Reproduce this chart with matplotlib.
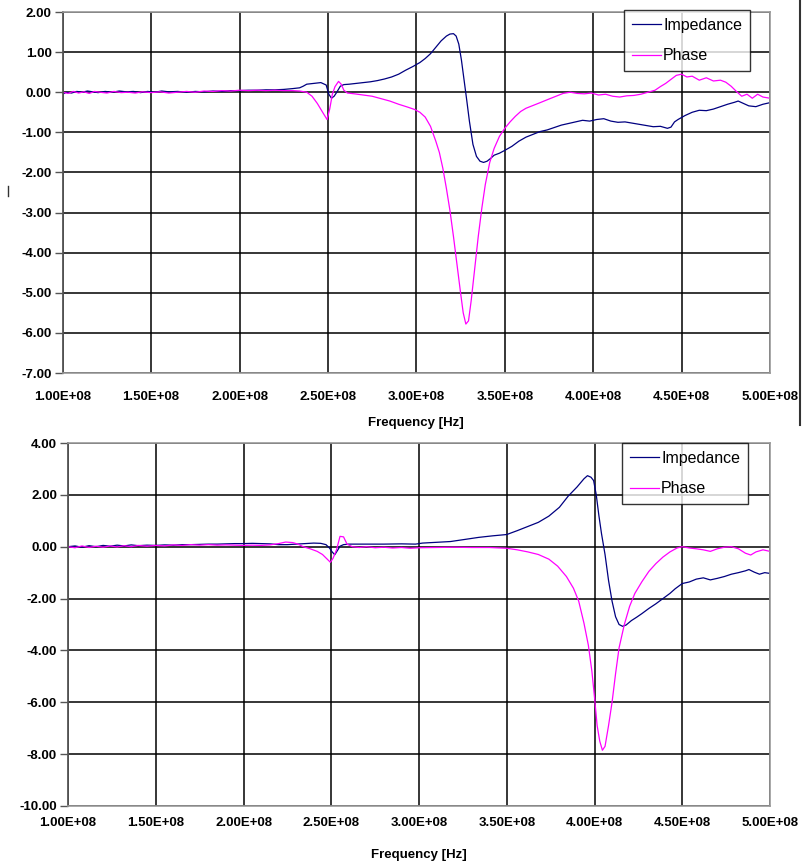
import matplotlib
matplotlib.use("Agg")
import matplotlib.pyplot as plt
from matplotlib.lines import Line2D
import numpy as np

plt.rcParams['font.family'] = ['Liberation Sans', 'DejaVu Sans']

# ---- top panel data (frequency in MHz) ----
top_imp_f = [100, 102, 105, 108, 111, 114, 117, 120, 124, 128, 132, 136, 140, 144, 148, 152, 156, 160,
             165, 170, 175, 180, 185, 190, 195, 200, 205, 210, 215, 220, 225, 230, 234, 236, 238, 242,
             246, 249, 250.5, 252, 253.5, 255, 257, 259, 262, 266, 270, 274, 278, 282, 286, 290, 294,
             298, 302, 305, 308, 311, 314, 317, 319, 321, 322.5, 324, 325.5, 327, 328.5, 330, 332, 334,
             336, 338, 340, 342, 344, 347, 350, 354, 358, 362, 366, 370, 374, 378, 382, 386, 390, 394,
             398, 402, 406, 410, 414, 418, 422, 426, 430, 434, 438, 442, 444, 446, 448, 452, 456, 460,
             464, 468, 472, 476, 480, 482, 485, 488, 492, 496, 500]
top_imp = [-0.05, 0.0, -0.02, 0.02, 0.0, 0.03, 0.01, -0.01, 0.02, 0.0, 0.03, 0.01, 0.02, -0.01, 0.02,
           0.0, 0.03, 0.01, 0.02, 0.0, 0.02, 0.01, 0.03, 0.02, 0.04, 0.04, 0.05, 0.05, 0.06, 0.06, 0.07,
           0.09, 0.11, 0.15, 0.2, 0.22, 0.24, 0.18, -0.05, -0.15, -0.1, 0.0, 0.15, 0.19, 0.2, 0.22, 0.24,
           0.26, 0.29, 0.33, 0.38, 0.45, 0.55, 0.64, 0.74, 0.84, 0.96, 1.12, 1.28, 1.4, 1.45, 1.46, 1.4,
           1.2, 0.8, 0.3, -0.2, -0.72, -1.3, -1.6, -1.72, -1.75, -1.72, -1.65, -1.57, -1.52, -1.45,
           -1.35, -1.22, -1.12, -1.05, -0.98, -0.94, -0.88, -0.82, -0.78, -0.74, -0.7, -0.72, -0.68,
           -0.66, -0.72, -0.75, -0.74, -0.77, -0.8, -0.83, -0.86, -0.85, -0.9, -0.87, -0.74, -0.68,
           -0.58, -0.5, -0.45, -0.46, -0.42, -0.36, -0.3, -0.25, -0.22, -0.28, -0.34, -0.36, -0.3, -0.26]

top_ph_f = [100, 103, 106, 109, 112, 115, 118, 121, 125, 129, 133, 137, 141, 145, 150, 155, 160, 165,
            170, 175, 180, 185, 190, 195, 200, 205, 210, 215, 220, 225, 230, 234, 238, 241, 244, 247,
            249.5, 251, 252.5, 254, 256, 257.5, 259, 261, 265, 270, 275, 280, 285, 290, 295, 299, 302,
            305, 308, 311, 313, 315, 317, 319, 321, 323, 325, 326.5, 328, 329.5, 331, 333, 335, 337,
            339, 341.5, 344, 347, 350, 353, 356, 359, 362, 366, 370, 375, 379, 383, 387, 391, 395, 399,
            403, 407, 411, 415, 419, 423, 427, 431, 435, 438, 441, 444, 447, 450, 453, 456, 460, 464,
            468, 472, 475, 478, 481, 484, 487, 490, 493, 496, 500]
top_ph = [0.0, -0.03, 0.02, -0.02, 0.01, -0.03, 0.02, 0.0, -0.02, 0.02, -0.01, 0.0, -0.02, 0.01, -0.01,
          0.01, -0.02, 0.0, 0.02, 0.0, 0.03, 0.02, 0.04, 0.03, 0.05, 0.04, 0.05, 0.04, 0.05, 0.04, 0.04,
          0.03, 0.0, -0.1, -0.28, -0.5, -0.68, -0.42, -0.05, 0.14, 0.27, 0.2, 0.05, -0.02, -0.04, -0.07,
          -0.1, -0.16, -0.22, -0.3, -0.37, -0.43, -0.5, -0.62, -0.85, -1.22, -1.5, -1.9, -2.4, -2.95,
          -3.6, -4.3, -5.0, -5.5, -5.78, -5.7, -5.2, -4.4, -3.6, -2.9, -2.3, -1.75, -1.4, -1.1, -0.9,
          -0.74, -0.6, -0.48, -0.4, -0.33, -0.26, -0.17, -0.1, -0.03, 0.0, -0.03, -0.04, -0.02, -0.07,
          -0.05, -0.1, -0.12, -0.09, -0.08, -0.05, 0.0, 0.05, 0.14, 0.22, 0.32, 0.42, 0.45, 0.38, 0.4,
          0.3, 0.36, 0.28, 0.3, 0.25, 0.15, 0.02, -0.1, -0.05, -0.15, -0.05, -0.12, -0.15]

# ---- bottom panel data (frequency in MHz) ----
bot_imp_f = [100, 104, 108, 112, 116, 120, 124, 128, 132, 136, 140, 145, 150, 155, 160, 165, 170, 175,
             180, 185, 190, 195, 200, 205, 210, 215, 220, 225, 230, 235, 240, 244, 247, 249, 250.5, 252,
             253.5, 255, 257, 260, 270, 280, 290, 298, 302, 310, 318, 326, 334, 342, 350, 356, 362, 368,
             374, 380, 385, 390, 394, 396, 398, 399.5, 401, 402.5, 404, 406, 408, 410, 412, 414, 416,
             418, 421, 424, 427, 431, 435, 439, 443, 446, 450, 454, 458, 462, 466, 470, 474, 478, 482,
             486, 488, 491, 494, 497, 500]
bot_imp = [0.0, 0.03, -0.02, 0.04, 0.0, 0.05, 0.02, 0.06, 0.03, 0.07, 0.04, 0.06, 0.05, 0.07, 0.06,
           0.08, 0.08, 0.09, 0.1, 0.1, 0.11, 0.12, 0.12, 0.13, 0.12, 0.11, 0.08, 0.08, 0.1, 0.12, 0.14,
           0.13, 0.08, -0.05, -0.2, -0.31, -0.15, 0.02, 0.08, 0.1, 0.1, 0.1, 0.11, 0.1, 0.14, 0.17, 0.2,
           0.28, 0.36, 0.42, 0.47, 0.62, 0.78, 0.94, 1.18, 1.52, 1.95, 2.3, 2.62, 2.74, 2.68, 2.55, 2.0,
           1.2, 0.5, -0.3, -1.3, -2.1, -2.7, -3.0, -3.07, -3.02, -2.85, -2.72, -2.58, -2.38, -2.2, -2.0,
           -1.8, -1.62, -1.42, -1.36, -1.25, -1.2, -1.28, -1.22, -1.15, -1.06, -1.0, -0.93, -0.88,
           -0.98, -1.06, -1.0, -1.03]

bot_ph_f = [100, 104, 108, 112, 116, 120, 124, 128, 132, 136, 140, 145, 150, 155, 160, 165, 170, 175,
            180, 185, 190, 195, 200, 205, 210, 215, 220, 224, 228, 231, 234, 238, 242, 245, 248, 249.5,
            251, 253, 255, 257, 259, 262, 266, 270, 275, 280, 285, 290, 295, 300, 310, 320, 330, 340,
            350, 356, 362, 368, 374, 379, 384, 388, 391, 394, 396.5, 398.5, 400, 401.5, 403, 404.5, 406,
            408, 410, 412, 414, 417, 420, 423, 427, 431, 435, 439, 443, 447, 450, 454, 458, 462, 466,
            470, 474, 478, 482, 486, 489, 492, 496, 500]
bot_ph = [0.0, -0.04, 0.03, -0.03, 0.02, -0.02, 0.03, -0.01, 0.04, 0.0, 0.05, 0.02, 0.05, 0.03, 0.07,
          0.05, 0.08, 0.06, 0.08, 0.06, 0.07, 0.06, 0.05, 0.06, 0.05, 0.07, 0.12, 0.18, 0.16, 0.1, 0.0,
          -0.08, -0.18, -0.3, -0.5, -0.6, -0.45, -0.12, 0.4, 0.38, 0.1, 0.0, -0.03, 0.0, -0.04, -0.02,
          -0.05, -0.03, -0.06, -0.04, -0.03, -0.02, -0.03, -0.03, -0.06, -0.12, -0.2, -0.3, -0.48,
          -0.75, -1.15, -1.6, -2.1, -2.95, -3.8, -4.8, -5.8, -6.9, -7.5, -7.85, -7.7, -6.9, -6.0, -4.9,
          -3.9, -3.0, -2.3, -1.8, -1.35, -0.95, -0.65, -0.4, -0.2, -0.05, 0.0, -0.05, -0.08, -0.12,
          -0.18, -0.08, -0.02, 0.0, -0.08, -0.25, -0.32, -0.2, -0.12, -0.18]

freq_ticks = [1.0e8, 1.5e8, 2.0e8, 2.5e8, 3.0e8, 3.5e8, 4.0e8, 4.5e8, 5.0e8]
freq_labels = ['1.00E+08', '1.50E+08', '2.00E+08', '2.50E+08', '3.00E+08',
               '3.50E+08', '4.00E+08', '4.50E+08', '5.00E+08']
top_yticks = [2, 1, 0, -1, -2, -3, -4, -5, -6, -7]
bot_yticks = [4, 2, 0, -2, -4, -6, -8, -10]

IMP_COLOR = '#000080'
PH_COLOR = '#ff00ff'

W, H = 802, 868
fig = plt.figure(figsize=(W / 100, H / 100), dpi=100)
fig.patch.set_facecolor('white')


def px_axes(left, top, right, bottom):
    return fig.add_axes([left / W, 1 - bottom / H, (right - left) / W, (bottom - top) / H])


def style(ax, yticks, ylim, xpad, labelpad):
    ax.set_xlim(1.0e8, 5.0e8)
    ax.set_ylim(*ylim)
    ax.set_xticks(freq_ticks)
    ax.set_xticklabels(freq_labels, fontsize=9.5, fontweight='bold')
    ax.set_yticks(yticks)
    ax.set_yticklabels(['%.2f' % v for v in yticks], fontsize=9.5, fontweight='bold')
    ax.grid(True, color='black', linewidth=1.1)
    ax.set_axisbelow(True)
    ax.tick_params(axis='x', length=0, pad=xpad)
    ax.tick_params(axis='y', length=6, width=1, color='#555555', pad=2)
    for side in ['top', 'right', 'bottom']:
        ax.spines[side].set_color('#999999')
        ax.spines[side].set_linewidth(1.2)
    ax.spines['left'].set_color('#555555')
    ax.spines['left'].set_linewidth(1.3)
    ax.set_xlabel('Frequency [Hz]', fontsize=9.5, fontweight='bold', labelpad=labelpad)


def add_legend(ax, right_px, top_px):
    leg = ax.legend(loc='upper right', bbox_to_anchor=(right_px / W, 1 - top_px / H),
                    bbox_transform=fig.transFigure, fontsize=11.5, frameon=True, fancybox=False,
                    borderaxespad=0, handlelength=1.8, handletextpad=0.15, labelspacing=0.95,
                    borderpad=0.5)
    leg.get_frame().set_edgecolor('black')
    leg.get_frame().set_linewidth(1.0)


# top panel
ax1 = px_axes(62.7, 12, 770, 373)
ax1.plot(np.array(top_imp_f) * 1e6, top_imp, color=IMP_COLOR, linewidth=0.9, label='Impedance')
ax1.plot(np.array(top_ph_f) * 1e6, top_ph, color=PH_COLOR, linewidth=0.9, label='Phase')
style(ax1, top_yticks, (-7, 2), xpad=13, labelpad=10)
add_legend(ax1, 750, 10)

# bottom panel
ax2 = px_axes(68, 443, 770, 806)
ax2.plot(np.array(bot_imp_f) * 1e6, bot_imp, color=IMP_COLOR, linewidth=0.9, label='Impedance')
ax2.plot(np.array(bot_ph_f) * 1e6, bot_ph, color=PH_COLOR, linewidth=0.9, label='Phase')
style(ax2, bot_yticks, (-10, 4), xpad=8, labelpad=14)
add_legend(ax2, 748, 443)

# border fragment at the right edge and small mark at the left
fig.add_artist(Line2D([800 / W, 800 / W], [1.0, 1 - 425 / H], transform=fig.transFigure,
                      color='#333333', linewidth=1.5))
fig.add_artist(Line2D([8 / W, 8 / W], [1 - 186 / H, 1 - 196 / H], transform=fig.transFigure,
                      color='#333333', linewidth=1.0))

fig.savefig('out.png', dpi=100, facecolor='white')
